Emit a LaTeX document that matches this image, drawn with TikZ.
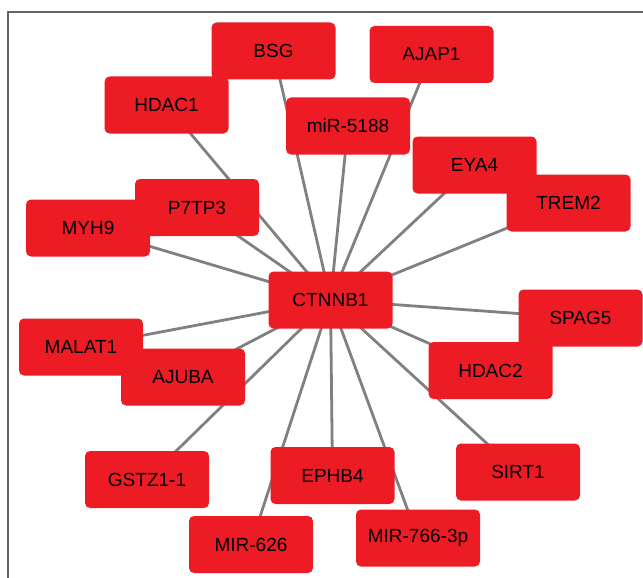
\documentclass[tikz,border=0pt]{standalone}
\usepackage{fontspec}
\setmainfont{Liberation Sans}
\usetikzlibrary{backgrounds}
\definecolor{nodered}{RGB}{237,28,36}
\definecolor{edgegray}{RGB}{128,128,128}
\definecolor{framegray}{RGB}{100,100,100}
\begin{document}
\begin{tikzpicture}[x=1pt,y=-1pt,
  gene/.style={fill=nodered, draw=none, rounded corners=5pt, minimum width=124pt, minimum height=57pt, inner sep=0pt, font=\fontsize{19}{22}\selectfont, text=black},
  link/.style={draw=edgegray, line width=2.8pt},
  framel/.style={draw=framegray, line width=1.4pt}]
\useasboundingbox (0,0) rectangle (643,578);
\node[gene] (BSG) at (273.5,51) {BSG};
\node[gene] (HDAC1) at (166.5,105) {HDAC1};
\node[gene] (MIR5188) at (348,126) {miR-5188};
\node[gene] (AJAP1) at (431.5,54.5) {AJAP1};
\node[gene] (MYH9) at (88,228) {MYH9};
\node[gene] (P7TP3) at (197,207.5) {P7TP3};
\node[gene] (EYA4) at (474.5,165) {EYA4};
\node[gene] (TREM2) at (568.5,203) {TREM2};
\node[gene] (CTNNB1) at (330.5,300) {CTNNB1};
\node[gene] (MALAT1) at (81,347) {MALAT1};
\node[gene] (AJUBA) at (183,377) {AJUBA};
\node[gene] (SPAG5) at (580.5,318) {SPAG5};
\node[gene] (HDAC2) at (490.5,370.5) {HDAC2};
\node[gene] (GSTZ) at (147,479.5) {GSTZ1-1};
\node[gene] (EPHB4) at (332.5,475.5) {EPHB4};
\node[gene] (SIRT1) at (518,472) {SIRT1};
\node[gene] (MIR626) at (251,544.5) {MIR-626};
\node[gene] (MIR766) at (418,538) {MIR-766-3p};
\coordinate (F1) at (8,578);
\coordinate (F2) at (8,12);
\coordinate (F3) at (643,12);
\begin{pgfonlayer}{background}
\draw[framel] (F1) -- (F2) -- (F3);
\foreach \n in {BSG,HDAC1,MIR5188,AJAP1,MYH9,P7TP3,EYA4,TREM2,MALAT1,AJUBA,SPAG5,HDAC2,GSTZ,EPHB4,SIRT1,MIR626,MIR766}
  \draw[link] (CTNNB1.center) -- (\n.center);
\end{pgfonlayer}
\end{tikzpicture}
\end{document}
